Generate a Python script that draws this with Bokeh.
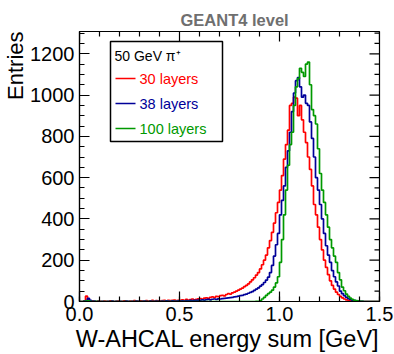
from bokeh.plotting import figure
from bokeh.models import Range1d, SingleIntervalTicker, LinearAxis, PrintfTickFormatter, Label, Title
from bokeh.embed import file_html
from bokeh.resources import INLINE

# ---------------- data (bins of 0.01 GeV from 0.0 to 1.5) ----------------
bin_width = 0.01
n_bins = 150

layers_30 = [
    0, 0, 3, 26, 8, 2, 3, 1, 0, 2,
    1, 0, 2, 1, 0, 3, 1, 0, 1, 2,
    0, 1, 3, 1, 0, 2, 1, 4, 2, 1,
    3, 2, 1, 4, 2, 3, 5, 2, 4, 3,
    2, 4, 5, 3, 6, 4, 5, 7, 4, 6,
    5, 8, 6, 10, 7, 9, 12, 8, 11, 13,
    14, 12, 16, 18, 15, 20, 22, 19, 25, 24,
    28, 30, 27, 34, 38, 36, 42, 45, 50, 55,
    60, 65, 72, 78, 85, 95, 105, 115, 128, 140,
    158, 178, 200, 225, 260, 295, 335, 380, 430, 480,
    540, 610, 690, 760, 830, 950, 960, 990, 985, 900,
    950, 880, 820, 770, 700, 640, 560, 470, 420, 360,
    300, 250, 200, 165, 130, 100, 78, 60, 45, 34,
    25, 18, 12, 8, 6, 4, 3, 2, 1, 1,
    0, 0, 0, 0, 0, 0, 0, 0, 0, 0,
]

layers_38 = [
    0, 0, 2, 4, 15, 5, 1, 2, 0, 1,
    0, 1, 0, 0, 1, 0, 2, 0, 1, 0,
    1, 0, 0, 2, 1, 0, 1, 0, 2, 1,
    0, 1, 2, 1, 0, 2, 1, 1, 2, 1,
    1, 2, 1, 3, 2, 1, 3, 2, 2, 3,
    2, 3, 2, 4, 3, 5, 4, 6, 5, 7,
    6, 8, 7, 9, 10, 8, 11, 12, 10, 13,
    12, 14, 15, 16, 18, 19, 20, 22, 24, 26,
    28, 30, 33, 36, 40, 44, 48, 54, 60, 66,
    74, 82, 92, 104, 118, 140, 175, 220, 275, 330,
    420, 490, 560, 650, 730, 820, 920, 1010, 1070, 1085,
    1040, 990, 1000, 960, 950, 870, 790, 700, 600, 540,
    470, 400, 330, 270, 225, 190, 150, 120, 95, 75,
    50, 38, 28, 20, 14, 10, 7, 5, 3, 2,
    1, 1, 0, 0, 0, 0, 0, 0, 0, 0,
]

layers_100 = [
    0, 0, 1, 2, 3, 1, 0, 0, 1, 0,
    0, 0, 0, 0, 0, 0, 0, 0, 0, 0,
    0, 0, 0, 0, 0, 0, 0, 0, 0, 0,
    0, 0, 0, 0, 0, 0, 0, 0, 0, 0,
    0, 0, 0, 0, 0, 0, 0, 0, 0, 0,
    0, 0, 0, 0, 0, 0, 0, 0, 0, 0,
    0, 0, 0, 0, 0, 0, 0, 0, 0, 0,
    0, 0, 0, 0, 0, 0, 0, 0, 0, 0,
    0, 0, 0, 0, 0, 0, 0, 0, 1, 1,
    3, 12, 20, 30, 38, 45, 55, 70, 90, 120,
    190, 300, 420, 540, 660, 760, 820, 950, 1040, 1080,
    1130, 1110, 1090, 1150, 1160, 1050, 930, 900, 860, 740,
    620, 540, 480, 420, 360, 300, 260, 220, 190, 140,
    105, 70, 52, 36, 25, 16, 10, 6, 4, 2,
    1, 1, 0, 0, 0, 0, 0, 0, 0, 0,
]

series_names = ["30 layers", "38 layers", "100 layers"]
series_colors = ["#ff0000", "#000099", "#009900"]
legend_header = "50 GeV \u03c0\u207a"
title_text = "GEANT4 level"
x_title = "W-AHCAL energy sum [GeV]"
y_title = "Entries"

# ---------------- layout ----------------
W, H = 394, 354
FL, FR, FT, FB = 79, 379, 31, 301
XMAX, YMAX = 1.5, 1308
X_MAJOR, X_MINOR_N = 0.5, 5
Y_MAJOR, Y_MINOR_N = 200, 4
MAJ_LEN, MIN_LEN = 10, 5
FONT = "Liberation Sans"


def xd(px):
    return (px - FL) / (FR - FL) * XMAX


def yd(py):
    return (FB - py) / (FB - FT) * YMAX


p = figure(width=W, height=H, output_backend="svg", toolbar_location=None,
           x_range=Range1d(0, XMAX), y_range=Range1d(0, YMAX),
           x_axis_type=None, y_axis_type=None,
           min_border_left=FL, min_border_right=W - FR,
           min_border_top=FT, min_border_bottom=H - FB)
p.outline_line_color = "black"
p.outline_line_width = 1.2
p.background_fill_color = "white"
p.border_fill_color = "white"

# title
p.title = Title(text=title_text, align="left", offset=101, text_font=FONT,
                text_font_size="16.5px", text_font_style="bold",
                text_color="#6f6f6f", standoff=6)


def style(ax):
    ax.major_tick_in = MAJ_LEN
    ax.major_tick_out = 0
    ax.minor_tick_in = MIN_LEN
    ax.minor_tick_out = 0
    ax.axis_line_color = "black"
    ax.axis_line_width = 1.2
    ax.major_tick_line_color = "black"
    ax.minor_tick_line_color = "black"
    ax.major_tick_line_width = 1.2
    ax.minor_tick_line_width = 1.2
    ax.major_label_text_font = FONT
    ax.major_label_text_color = "black"
    ax.major_label_text_font_size = "20px"


xax = LinearAxis(ticker=SingleIntervalTicker(interval=X_MAJOR, num_minor_ticks=X_MINOR_N),
                 formatter=PrintfTickFormatter(format="%.1f"))
style(xax)
xax.major_label_standoff = 5
p.add_layout(xax, "below")

yax = LinearAxis(ticker=SingleIntervalTicker(interval=Y_MAJOR, num_minor_ticks=Y_MINOR_N))
style(yax)
yax.major_label_standoff = 5
p.add_layout(yax, "left")

# axis titles (ROOT style: aligned to the axis end)
p.add_layout(Title(text=x_title, align="right", text_font=FONT, text_font_size="23.5px",
                   text_font_style="normal", text_color="black", standoff=0), "below")
p.add_layout(Title(text=y_title, align="right", text_font=FONT, text_font_size="22px",
                   text_font_style="normal", text_color="black", standoff=0), "left")

# mirrored ticks on top and right edges (inside the frame)
x_step = X_MAJOR / X_MINOR_N
n_x = int(round(XMAX / x_step))
tx = [i * x_step for i in range(n_x + 1)]
tl = [(MAJ_LEN if i % X_MINOR_N == 0 else MIN_LEN) * YMAX / (FB - FT) for i in range(n_x + 1)]
p.segment(x0=tx, x1=tx, y0=[YMAX] * len(tx), y1=[YMAX - l for l in tl],
          line_color="black", line_width=1.2)
y_step = Y_MAJOR / Y_MINOR_N
n_y = int(YMAX // y_step)
ty = [i * y_step for i in range(n_y + 1)]
tw = [(MAJ_LEN if i % Y_MINOR_N == 0 else MIN_LEN) * XMAX / (FR - FL) for i in range(n_y + 1)]
p.segment(x0=[XMAX] * len(ty), x1=[XMAX - w for w in tw], y0=ty, y1=ty,
          line_color="black", line_width=1.2)

# ---------------- histograms ----------------
edges = [i * bin_width for i in range(n_bins + 1)]
for vals, col in zip([layers_30, layers_38, layers_100], series_colors):
    p.step(x=edges, y=list(vals) + [vals[-1]], mode="after",
           line_color=col, line_width=1.7)

# ---------------- legend ----------------
p.quad(left=[xd(110)], right=[xd(222)], top=[yd(41)], bottom=[yd(141)],
       fill_color="white", line_color="black", line_width=1.5)
p.add_layout(Label(x=xd(114), y=yd(55), text=legend_header, text_font=FONT,
                   text_font_size="14px", text_color="black", text_baseline="middle"))
for i, (name, col) in enumerate(zip(series_names, series_colors)):
    py = 78 + i * 25
    p.segment(x0=[xd(115)], x1=[xd(135)], y0=[yd(py)], y1=[yd(py)],
              line_color=col, line_width=1.7)
    p.add_layout(Label(x=xd(139), y=yd(py), text=name, text_font=FONT,
                       text_font_size="14.5px", text_color=col, text_baseline="middle"))

open("out.html", "w").write(file_html(p, INLINE))
